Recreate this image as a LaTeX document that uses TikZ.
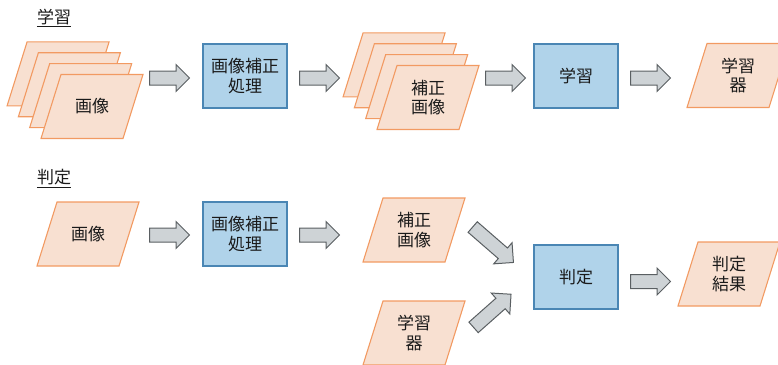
\documentclass[tikz,border=0pt]{standalone}
\usepackage{fontspec}
\newfontfamily\jp{Noto Sans CJK JP}
\usetikzlibrary{shapes.arrows}
\definecolor{parafill}{HTML}{F8E0D1}
\definecolor{paraedge}{HTML}{F29A62}
\definecolor{boxfill}{HTML}{B0D3EA}
\definecolor{boxedge}{HTML}{4A86B4}
\definecolor{arrfill}{HTML}{CED3D6}
\definecolor{arredge}{HTML}{5A5F62}
\definecolor{ink}{HTML}{1A1A1A}
\newcommand\paraat[1]{\path[parashape] (#1) ++(-31,-32) -- ++(82,0) -- ++(-20,64) -- ++(-82,0) -- cycle;}
\begin{document}
\begin{tikzpicture}[x=1pt,y=-1pt,
  txt/.style={font=\jp\fontsize{17}{19.5}\selectfont, text=ink, align=center, inner sep=0pt},
  procbox/.style={txt, draw=boxedge, fill=boxfill, line width=1.1pt, minimum width=84pt, minimum height=64pt},
  parashape/.style={draw=paraedge, fill=parafill, line width=1.1pt, line join=miter},
  blockarrow/.style={single arrow, draw=arredge, fill=arrfill, line width=1pt, minimum height=40pt, single arrow head extend=6.5pt, single arrow tip angle=90, inner xsep=0pt, inner ysep=6.5pt, text height=0pt, text depth=0pt, anchor=tail},
  uline/.style={draw=ink, line width=0.9pt}
]
\useasboundingbox (0,0) rectangle (778,364);
\clip (0,0) rectangle (778,364);

% titles
\node[txt] (t1) at (54,17) {学習};
\path[uline] ([yshift=-1.5pt]t1.south west) -- ([yshift=-1.5pt]t1.south east);
\node[txt] (t2) at (54,177.5) {判定};
\path[uline] ([yshift=-1.5pt]t2.south west) -- ([yshift=-1.5pt]t2.south east);

% top row
\paraat{58.1,73.8}
\paraat{69.4,84.7}
\paraat{80.7,95.6}
\paraat{92,106.5}
\node[txt] (img1) at (92,106.5) {画像};
\node[blockarrow] (a1) at (149,78) {};
\node[procbox] (proc1) at (245,76) {画像補正\\処理};
\node[blockarrow] (a2) at (299,78) {};
\paraat{394.1,64.8}
\paraat{405.4,75.7}
\paraat{416.7,86.6}
\paraat{428,97.5}
\node[txt] (corr1) at (428,97.5) {補正\\画像};
\node[blockarrow] (a3) at (485,78) {};
\node[procbox] (learn) at (576,76) {学習};
\node[blockarrow] (a4) at (630,78) {};
\paraat{738,75.5}
\node[txt] (model1) at (738,75.5) {学習\\器};

% bottom row
\paraat{88,234}
\node[txt] (img2) at (88,234) {画像};
\node[blockarrow] (b1) at (149,235) {};
\node[procbox] (proc2) at (245,234) {画像補正\\処理};
\node[blockarrow] (b2) at (299,235) {};
\paraat{414,230}
\node[txt] (corr2) at (414,230) {補正\\画像};
\paraat{414,333}
\node[txt] (model2) at (414,333) {学習\\器};
\node[blockarrow, minimum height=54pt, single arrow head extend=7pt, rotate=-41] (b3) at (472.3,226.7) {};
\node[blockarrow, minimum height=50pt, single arrow head extend=7pt, rotate=41.5] (b4) at (473.2,327.7) {};
\node[procbox] (judge) at (576,277) {判定};
\node[blockarrow] (b5) at (630,281.5) {};
\paraat{729,274}
\node[txt] (result) at (729,274) {判定\\結果};
\end{tikzpicture}
\end{document}
